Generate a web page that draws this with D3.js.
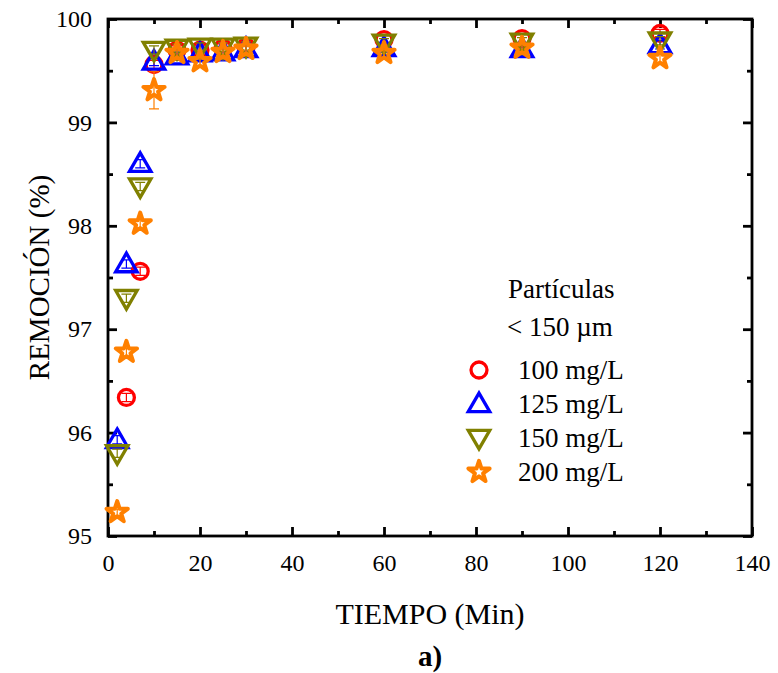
<!DOCTYPE html>
<meta charset="utf-8">
<style type="text/css">
body { margin: 0; background: #fff; }
svg text { font-family: "Liberation Serif", "Times New Roman", serif; fill: #000; }
.axis path, .axis line { stroke: #000; stroke-width: 2.8px; }
</style>
<body>
<script src="https://d3js.org/d3.v7.min.js"></script>
<script>
// data
let tiempo = [2, 4, 7, 10, 15, 20, 25, 30, 60, 90, 120];
let serie100 = [null, 96.34, 97.56, 99.56, 99.70, 99.70, 99.72, 99.73, 99.80, 99.81, 99.86];
let serie125 = [95.93, 97.63, 98.60, 99.59, 99.64, 99.67, 99.68, 99.71, 99.72, 99.71, 99.75];
let serie150 = [95.80, 97.30, 98.38, 99.70, 99.72, 99.73, 99.73, 99.74, 99.77, 99.78, 99.79];
let serie200 = [95.23, 96.78, 98.02, 99.31, 99.67, 99.59, 99.68, 99.71, 99.67, 99.72, 99.62];
let error200 = [0.03, 0.04, 0.04, 0.18, 0.05, 0.04, 0.04, 0.05, 0.04, 0.04, 0.04];
let etiquetas = ["100 mg/L", "125 mg/L", "150 mg/L", "200 mg/L"];

let width = 778, height = 673;
let margin = {left: 108, right: 26, top: 19, bottom: 137};

let svg = d3.select("body").append("svg")
    .attr("width", width)
    .attr("height", height);

let x = d3.scaleLinear().domain([0, 140]).range([margin.left, width - margin.right]);
let y = d3.scaleLinear().domain([95, 100]).range([height - margin.bottom, margin.top]);

// frame
svg.append("rect")
    .attr("x", x(0)).attr("y", y(100))
    .attr("width", x(140) - x(0)).attr("height", y(95) - y(100))
    .attr("fill", "none").attr("stroke", "#000").attr("stroke-width", 2.8);

function drawAxis(axis, tx, ty, labels) {
    let g = svg.append("g").attr("class", "axis")
        .attr("transform", "translate(" + tx + "," + ty + ")")
        .call(axis)
        .attr("font-family", "Liberation Serif")
        .attr("font-size", 24);
    g.select(".domain").remove();
    if (!labels) g.selectAll("text").remove();
    return g;
}

let xMajor = d3.range(0, 141, 20), xMinor = d3.range(10, 140, 20);
let yMajor = d3.range(95, 100.1, 1), yMinor = d3.range(95.5, 100, 1);

// bottom / top
drawAxis(d3.axisBottom(x).tickValues(xMajor).tickSize(-9).tickPadding(18).tickFormat(d3.format("d")), 0, y(95), true);
drawAxis(d3.axisBottom(x).tickValues(xMinor).tickSize(-5), 0, y(95), false);
drawAxis(d3.axisTop(x).tickValues(xMajor).tickSize(-9), 0, y(100), false);
drawAxis(d3.axisTop(x).tickValues(xMinor).tickSize(-5), 0, y(100), false);
// left / right
drawAxis(d3.axisLeft(y).tickValues(yMajor).tickSize(-9).tickPadding(16).tickFormat(d3.format("d")), x(0), 0, true);
drawAxis(d3.axisLeft(y).tickValues(yMinor).tickSize(-5), x(0), 0, false);
drawAxis(d3.axisRight(y).tickValues(yMajor).tickSize(-9), x(140), 0, false);
drawAxis(d3.axisRight(y).tickValues(yMinor).tickSize(-5), x(140), 0, false);

// titles
svg.append("text").attr("x", (x(0) + x(140)) / 2).attr("y", 624)
    .attr("text-anchor", "middle").attr("font-size", 30).text("TIEMPO (Min)");
svg.append("text").attr("x", (x(0) + x(140)) / 2).attr("y", 666)
    .attr("text-anchor", "middle").attr("font-size", 29).attr("font-weight", "bold").text("a)");
svg.append("text")
    .attr("transform", "translate(49," + ((y(95) + y(100)) / 2) + ") rotate(-90)")
    .attr("text-anchor", "middle").attr("font-size", 29).text("REMOCIÓN (%)");

// marker shapes
let symCircle = d3.symbol().type(d3.symbolCircle).size(200);
let symUp = d3.symbol().type(d3.symbolTriangle).size(200);
let symStar = d3.symbol().type(d3.symbolStar).size(140);

let series = [
    {vals: serie100, color: "#ff0000", sym: symCircle, rot: 0, dy: 0},
    {vals: serie125, color: "#0000ff", sym: symUp, rot: 0, dy: 1.5},
    {vals: serie150, color: "#808000", sym: symUp, rot: 180, dy: -1.5},
    {vals: serie200, color: "#ff8000", sym: symStar, rot: 0, dy: 0}
];

series.forEach(function(s, si) {
    let pts = tiempo.map(function(t, i) {
        return {t: t, v: s.vals[i], e: si === 3 ? error200[i] : 0.04};
    }).filter(function(d) { return d.v !== null; });

    let g = svg.append("g");
    // error bars
    g.selectAll(".eb").data(pts).enter().append("path")
        .attr("d", function(d) {
            let cx = x(d.t), y1 = y(d.v - d.e), y2 = y(d.v + d.e);
            return "M" + cx + "," + y1 + "V" + y2 +
                "M" + (cx - 5) + "," + y1 + "H" + (cx + 5) +
                "M" + (cx - 5) + "," + y2 + "H" + (cx + 5);
        })
        .attr("stroke", s.color).attr("stroke-width", 1.2).attr("fill", "none");
    g.selectAll(".mk").data(pts).enter().append("path")
        .attr("d", s.sym)
        .attr("transform", function(d) {
            return "translate(" + x(d.t) + "," + (y(d.v) + s.dy) + ") rotate(" + s.rot + ")";
        })
        .attr("fill", "none").attr("stroke", s.color)
        .attr("stroke-width", si === 3 ? 4 : 3.3)
        .attr("stroke-linejoin", si === 3 ? "round" : "miter");
});

// legend
let legX = 479, legY0 = 370, legStep = 34;
svg.append("text").attr("x", 508).attr("y", 298).attr("font-size", 27).text("Partículas");
svg.append("text").attr("x", 507).attr("y", 336).attr("font-size", 27).text("< 150 µm");
series.forEach(function(s, i) {
    let ly = legY0 + i * legStep;
    svg.append("path").attr("d", s.sym)
        .attr("transform", "translate(" + legX + "," + (ly + s.dy) + ") rotate(" + s.rot + ")")
        .attr("fill", "none").attr("stroke", s.color)
        .attr("stroke-width", i === 3 ? 4 : 3.3)
        .attr("stroke-linejoin", i === 3 ? "round" : "miter");
    svg.append("text").attr("x", 518).attr("y", ly + 9).attr("font-size", 27).text(etiquetas[i]);
});
</script>
</body>
</html>
